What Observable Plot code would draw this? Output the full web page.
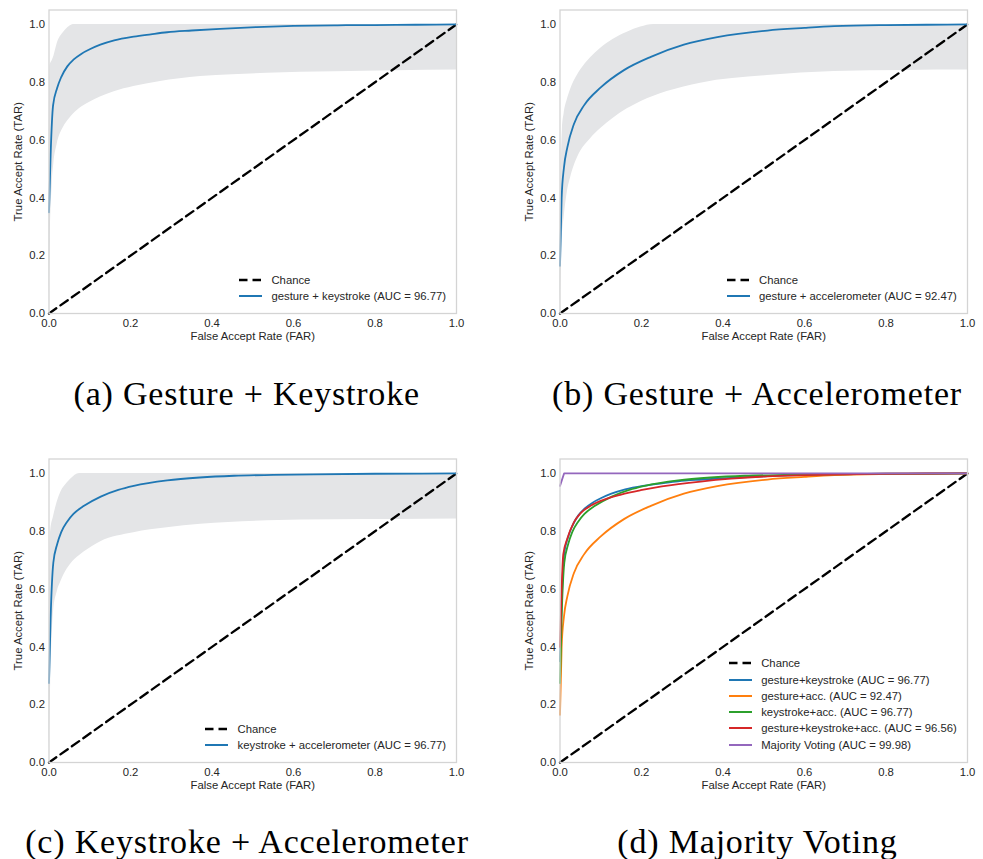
<!DOCTYPE html>
<html><head><meta charset="utf-8">
<script src="https://cdn.jsdelivr.net/npm/d3@7"></script>
<script src="https://cdn.jsdelivr.net/npm/@observablehq/plot@0.6"></script>
<style>
body{margin:0;background:#fff;}
#fig{position:relative;width:983px;height:859px;background:#fff;overflow:hidden;}
.panel{position:absolute;}
.legend{position:absolute;font-family:"Liberation Sans",Arial,sans-serif;font-size:11.3px;color:#262626;}
.legend .row{display:flex;align-items:center;height:16.3px;white-space:nowrap;}
.legend svg{margin-right:9.3px;display:block;}
.caption{position:absolute;width:500px;text-align:center;font-family:"Liberation Serif","Times New Roman",serif;font-size:34px;line-height:34px;letter-spacing:0.8px;color:#000;white-space:nowrap;}
</style></head><body><div id="fig"></div><script>
// ---- axis ticks / labels ----
const ticks = [0, 0.2, 0.4, 0.6, 0.8, 1.0];
const tickLabels = ["0.0", "0.2", "0.4", "0.6", "0.8", "1.0"];
const xLabel = "False Accept Rate (FAR)";
const yLabel = "True Accept Rate (TAR)";
const chanceFar = [0, 1];
const chanceTar = [0, 1];

// ---- (a) gesture + keystroke ----
const gkFar = [0, 0.004, 0.01, 0.02, 0.03, 0.045, 0.06, 0.08, 0.1, 0.126, 0.16, 0.208, 0.25, 0.29, 0.35, 0.42, 0.51, 0.6, 0.7, 0.8, 0.9, 1.0];
const gkTar = [0.35, 0.55, 0.72, 0.78, 0.818, 0.855, 0.878, 0.899, 0.914, 0.93, 0.945, 0.958, 0.966, 0.973, 0.979, 0.985, 0.991, 0.995, 0.997, 0.998, 0.999, 1.0];
const gkBandFar = [0, 0.003, 0.008, 0.012, 0.02, 0.036, 0.05, 0.06, 0.08, 0.1, 0.126, 0.16, 0.208, 0.27, 0.372, 0.45, 0.535, 0.7, 0.85, 1.0];
const gkBandHi = [0.6, 0.86, 0.875, 0.89, 0.933, 0.973, 0.993, 1, 1, 1, 1, 1, 1, 1, 1, 1, 1, 1, 1, 1];
const gkBandLo = [0, 0.25, 0.45, 0.52, 0.585, 0.645, 0.674, 0.69, 0.714, 0.731, 0.749, 0.767, 0.785, 0.802, 0.82, 0.826, 0.831, 0.836, 0.84, 0.842];

// ---- (b) gesture + accelerometer ----
const gaFar = [0, 0.004, 0.0098, 0.018, 0.034, 0.059, 0.1, 0.157, 0.223, 0.304, 0.386, 0.509, 0.6, 0.673, 0.8, 0.9, 1.0];
const gaTar = [0.165, 0.4, 0.506, 0.575, 0.655, 0.72, 0.782, 0.842, 0.888, 0.93, 0.956, 0.979, 0.988, 0.994, 0.998, 0.999, 1.0];
const gaBandFar = [0, 0.006, 0.01, 0.018, 0.026, 0.043, 0.051, 0.075, 0.1, 0.13, 0.165, 0.198, 0.23, 0.263, 0.345, 0.509, 0.673, 0.85, 1.0];
const gaBandHi = [0.3, 0.64, 0.69, 0.74, 0.775, 0.825, 0.843, 0.885, 0.918, 0.948, 0.973, 0.991, 1, 1, 1, 1, 1, 1, 1];
const gaBandLo = [0, 0.27, 0.33, 0.42, 0.47, 0.54, 0.562, 0.605, 0.64, 0.675, 0.708, 0.733, 0.752, 0.768, 0.797, 0.823, 0.837, 0.841, 0.842];

// ---- (c) keystroke + accelerometer ----
const kaFar = [0, 0.004, 0.0106, 0.02, 0.03, 0.045, 0.06, 0.086, 0.127, 0.17, 0.208, 0.29, 0.37, 0.454, 0.55, 0.65, 0.8, 1.0];
const kaTar = [0.275, 0.5, 0.691, 0.755, 0.797, 0.834, 0.86, 0.888, 0.92, 0.943, 0.957, 0.976, 0.986, 0.992, 0.995, 0.997, 0.999, 1.0];
const kaBandFar = [0, 0.004, 0.011, 0.02, 0.029, 0.045, 0.053, 0.075, 0.086, 0.127, 0.208, 0.29, 0.372, 0.535, 0.7, 0.85, 1.0];
const kaBandHi = [0.45, 0.8, 0.85, 0.9, 0.935, 0.968, 0.98, 1, 1, 1, 1, 1, 1, 1, 1, 1, 1];
const kaBandLo = [0, 0.27, 0.52, 0.59, 0.625, 0.67, 0.686, 0.716, 0.728, 0.764, 0.795, 0.812, 0.824, 0.836, 0.84, 0.841, 0.842];

// ---- (d) extra series ----
const gkaFar = [0, 0.004, 0.008, 0.018, 0.034, 0.05, 0.075, 0.1, 0.15, 0.198, 0.25, 0.345, 0.42, 0.509, 0.6, 0.7, 0.8, 1.0];
const gkaTar = [0.4, 0.6, 0.72, 0.775, 0.831, 0.862, 0.888, 0.905, 0.927, 0.942, 0.955, 0.972, 0.982, 0.99, 0.994, 0.997, 0.999, 1.0];
const mvFar = [0, 0.01, 1.0];
const mvTar = [0.957, 1.0, 1.0];

// ---- texts & colours ----
const captions = ["(a) Gesture + Keystroke", "(b) Gesture + Accelerometer", "(c) Keystroke + Accelerometer", "(d) Majority Voting"];
const legendA = ["Chance", "gesture + keystroke (AUC = 96.77)"];
const legendB = ["Chance", "gesture + accelerometer (AUC = 92.47)"];
const legendC = ["Chance", "keystroke + accelerometer (AUC = 96.77)"];
const legendD = ["Chance", "gesture+keystroke (AUC = 96.77)", "gesture+acc. (AUC = 92.47)", "keystroke+acc. (AUC = 96.77)", "gesture+keystroke+acc. (AUC = 96.56)", "Majority Voting (AUC = 99.98)"];
const seriesColors = ["#1f77b4", "#ff7f0e", "#2ca02c", "#d62728", "#9467bd"];
const bandColor = "#e4e5e7";

const rows = (far, tar) => far.map((x, i) => ({x, y: tar[i]}));
const bandRows = (far, lo, hi) => far.map((x, i) => ({x, lo: lo[i], hi: hi[i]}));

const W = 470, H = 350;
const ML = 48.5, MR = 14, MT = 9.5, MB = 37;
const DASH = "9,5";

function makePlot(curves, band) {
  const marks = [];
  if (band) marks.push(Plot.areaY(band, {x: "x", y1: "lo", y2: "hi", fill: bandColor, curve: "monotone-x"}));
  marks.push(Plot.line(rows(chanceFar, chanceTar), {x: "x", y: "y", stroke: "#000", strokeWidth: 2.3, strokeDasharray: DASH}));
  for (const c of curves) marks.push(Plot.line(c.data, {x: "x", y: "y", stroke: c.color, strokeWidth: 1.8, curve: c.step ? "linear" : "monotone-x"}));
  marks.push(Plot.frame({stroke: "#d4d4d4", strokeWidth: 1.3}));
  marks.push(Plot.text([xLabel], {text: d => d, frameAnchor: "bottom", lineAnchor: "middle", textAnchor: "middle", dy: 23, fill: "#262626"}));
  marks.push(Plot.text([yLabel], {text: d => d, frameAnchor: "left", lineAnchor: "middle", textAnchor: "middle", dx: -30.5, rotate: -90, fill: "#262626"}));
  return Plot.plot({
    width: W, height: H,
    marginLeft: ML, marginRight: MR, marginTop: MT, marginBottom: MB,
    x: {domain: [0, 1], ticks, tickFormat: d => tickLabels[ticks.indexOf(d)], tickSize: 0, tickPadding: 5, label: null},
    y: {domain: [0, 1.05], ticks, tickFormat: d => tickLabels[ticks.indexOf(d)], tickSize: 0, tickPadding: 4, label: null},
    style: {fontFamily: "'Liberation Sans', Arial, sans-serif", fontSize: "11.3px", color: "#262626", background: "white", overflow: "visible"},
    marks
  });
}

const fig = document.getElementById("fig");
const panels = [
  {left: 0, top: 0, curves: [{data: rows(gkFar, gkTar), color: seriesColors[0]}], band: bandRows(gkBandFar, gkBandLo, gkBandHi), legend: legendA, legendColors: [seriesColors[0]], legendRow0: 280},
  {left: 510.8, top: 0, curves: [{data: rows(gaFar, gaTar), color: seriesColors[0]}], band: bandRows(gaBandFar, gaBandLo, gaBandHi), legend: legendB, legendColors: [seriesColors[0]], legendRow0: 280},
  {left: 0, top: 448.8, curves: [{data: rows(kaFar, kaTar), color: seriesColors[0]}], band: bandRows(kaBandFar, kaBandLo, kaBandHi), legend: legendC, legendColors: [seriesColors[0]], legendRow0: 280.2},
  {left: 510.8, top: 448.8, curves: [
    {data: rows(gkFar, gkTar), color: seriesColors[0]},
    {data: rows(gaFar, gaTar), color: seriesColors[1]},
    {data: rows(kaFar, kaTar), color: seriesColors[2]},
    {data: rows(gkaFar, gkaTar), color: seriesColors[3]},
    {data: rows(mvFar, mvTar), color: seriesColors[4], step: true}
  ], band: null, legend: legendD, legendColors: seriesColors, legendRow0: 214.5}
];
const captionCenters = [246.7, 757, 247, 757.5];
const captionTops = [376.5, 376.5, 825.3, 825.3];

panels.forEach((p, i) => {
  const div = document.createElement("div");
  div.className = "panel";
  div.style.left = p.left + "px";
  div.style.top = p.top + "px";
  div.appendChild(makePlot(p.curves, p.band));
  fig.appendChild(div);

  // legend (matplotlib style, no frame)
  const lg = document.createElement("div");
  lg.className = "legend";
  lg.style.right = (983 - (p.left + (W - MR) - 10)) + "px";
  lg.style.top = (p.top + p.legendRow0 - 8.15) + "px";
  p.legend.forEach((label, j) => {
    const row = document.createElement("div");
    row.className = "row";
    const ns = "http://www.w3.org/2000/svg";
    const svg = document.createElementNS(ns, "svg");
    svg.setAttribute("width", "23"); svg.setAttribute("height", "6");
    const ln = document.createElementNS(ns, "line");
    ln.setAttribute("x1", "0"); ln.setAttribute("x2", "23"); ln.setAttribute("y1", "3"); ln.setAttribute("y2", "3");
    if (j === 0) { ln.setAttribute("stroke", "#000"); ln.setAttribute("stroke-width", "2.5"); ln.setAttribute("stroke-dasharray", "8.5,5"); }
    else { ln.setAttribute("stroke", p.legendColors[j - 1]); ln.setAttribute("stroke-width", "2"); }
    svg.appendChild(ln);
    row.appendChild(svg);
    const t = document.createElement("span");
    t.textContent = label;
    row.appendChild(t);
    lg.appendChild(row);
  });
  fig.appendChild(lg);

  const cap = document.createElement("div");
  cap.className = "caption";
  cap.style.left = (captionCenters[i] - 250) + "px";
  cap.style.top = captionTops[i] + "px";
  cap.textContent = captions[i];
  fig.appendChild(cap);
});
</script></body></html>
